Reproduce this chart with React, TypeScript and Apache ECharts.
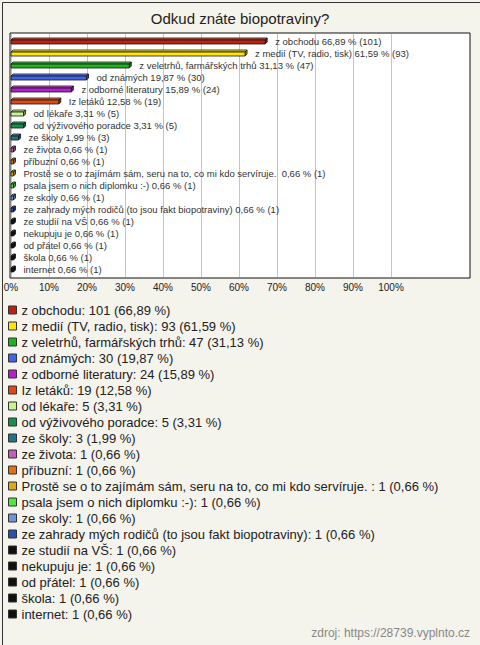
import React, { useEffect, useRef } from "react";
import * as echarts from "echarts";

const categories = [
  "z obchodu",
  "z medií (TV, radio, tisk)",
  "z veletrhů, farmářských trhů",
  "od známých",
  "z odborné literatury",
  "Iz letáků",
  "od lékaře",
  "od výživového poradce",
  "ze školy",
  "ze života",
  "příbuzní",
  "Prostě se o to zajímám sám, seru na to, co mi kdo servíruje. ",
  "psala jsem o nich diplomku :-)",
  "ze skoly",
  "ze zahrady mých rodičů (to jsou fakt biopotraviny)",
  "ze studií na VŠ",
  "nekupuju je",
  "od přátel",
  "škola",
  "internet",
];
const counts = [101, 93, 47, 30, 24, 19, 5, 5, 3, 1, 1, 1, 1, 1, 1, 1, 1, 1, 1, 1];
const percents = [66.89, 61.59, 31.13, 19.87, 15.89, 12.58, 3.31, 3.31, 1.99, 0.66, 0.66, 0.66, 0.66, 0.66, 0.66, 0.66, 0.66, 0.66, 0.66, 0.66];
const colors = [
  "#C0200F", "#FFE500", "#1DB51D", "#3F64E8", "#B51FCF", "#E04A12", "#C8F58A",
  "#129150", "#21728A", "#C45CBA", "#E07012", "#E0A812", "#4DE83A", "#6B95DD",
  "#2D4FB0", "#111111", "#111111", "#111111", "#111111", "#111111",
];
const xTicks = [0, 10, 20, 30, 40, 50, 60, 70, 80, 90, 100];

const FONT = "Arial, 'Liberation Sans', sans-serif";
const fmt = (v: number) => v.toFixed(2).replace(".", ",");

function mix(hex: string, target: number, t: number) {
  const n = parseInt(hex.slice(1), 16);
  const r = (n >> 16) & 255, g = (n >> 8) & 255, b = n & 255;
  const f = (c: number) => Math.round(c + (target - c) * t);
  return `rgb(${f(r)},${f(g)},${f(b)})`;
}

export default function App() {
  const ref = useRef<HTMLDivElement>(null);
  useEffect(() => {
    if (!ref.current) return;
    const chart = echarts.init(ref.current, null, { renderer: "svg" });
    const series = categories.map((name, i) => ({
      type: "custom",
      name,
      xAxisIndex: 1,
      yAxisIndex: 1,
      itemStyle: { color: colors[i] },
      data: [[percents[i], i, counts[i]]],
      renderItem: (params: any, api: any) => {
        const v = api.value(0);
        const idx = api.value(1);
        const p0 = api.coord([0, idx]);
        const p1 = api.coord([v, idx]);
        const cy = p0[1];
        const x0 = p0[0];
        const x1 = p1[0];
        const d = 2;
        const top = cy - 1;
        const bot = cy + 3;
        const c = colors[idx];
        const stroke = { stroke: "#111", lineWidth: 0.8 };
        return {
          type: "group",
          children: [
            {
              type: "polygon",
              shape: { points: [[x0, top], [x0 + d, top - d], [x1 + d, top - d], [x1, top]] },
              style: { fill: mix(c, 255, 0.25), ...stroke },
            },
            {
              type: "polygon",
              shape: { points: [[x1, top], [x1 + d, top - d], [x1 + d, bot - d], [x1, bot]] },
              style: { fill: mix(c, 0, 0.3), ...stroke },
            },
            {
              type: "rect",
              shape: { x: x0, y: top, width: x1 - x0, height: bot - top },
              style: { fill: c, ...stroke },
            },
            {
              type: "text",
              x: x1 + 10,
              y: cy,
              style: {
                text: `${categories[idx]} ${fmt(percents[idx])} % (${counts[idx]})`,
                fontSize: 9.5,
                fontFamily: FONT,
                fill: "#333",
                verticalAlign: "middle",
                align: "left",
              },
            },
          ],
        };
      },
    }));

    chart.setOption({
      animation: false,
      backgroundColor: "#F4F3EC",
      title: {
        text: "Odkud znáte biopotraviny?",
        left: "center",
        top: 11,
        padding: 0,
        textStyle: { fontSize: 15, fontWeight: "normal", color: "#222", fontFamily: FONT },
      },
      grid: [
        {
          left: 10, top: 33, width: 460, height: 245,
          show: true, backgroundColor: "#fff", borderColor: "#111", borderWidth: 1,
        },
        { left: 11, top: 34, width: 380, height: 243 },
      ],
      xAxis: [
        { gridIndex: 0, type: "value", show: false },
        {
          gridIndex: 1,
          type: "value",
          min: xTicks[0],
          max: xTicks[xTicks.length - 1],
          interval: 10,
          axisLine: { show: false },
          axisTick: { show: false },
          splitLine: { show: true, lineStyle: { color: "#C4C4C4", width: 1 } },
          axisLabel: {
            formatter: (v: number) => `${v}%`,
            fontSize: 10,
            fontFamily: FONT,
            color: "#222",
            margin: 5,
          },
        },
      ],
      yAxis: [
        { gridIndex: 0, type: "value", show: false },
        {
          gridIndex: 1,
          type: "value",
          inverse: true,
          min: -7 / 12,
          max: -7 / 12 + 243 / 12,
          show: false,
        },
      ],
      legend: {
        orient: "vertical",
        left: 8,
        top: 302,
        padding: 0,
        icon: "rect",
        itemWidth: 8,
        itemHeight: 8,
        itemGap: 0,
        selectedMode: false,
        itemStyle: { borderColor: "#333", borderWidth: 1 },
        data: categories,
        formatter: (name: string) => {
          const i = categories.indexOf(name);
          return `${name}: ${counts[i]} (${fmt(percents[i])} %)`;
        },
        textStyle: { fontSize: 13, lineHeight: 16, color: "#222", fontFamily: FONT },
      },
      graphic: [
        {
          type: "text",
          right: 10,
          top: 627,
          style: { text: "zdroj: https://28739.vyplnto.cz", fontSize: 12, fill: "#888", fontFamily: FONT },
        },
        {
          type: "rect",
          left: 0,
          top: 0,
          shape: { x: 0.5, y: 0.5, width: 479, height: 644 },
          style: { fill: "none", stroke: "#333", lineWidth: 1 },
        },
      ],
      series,
    });
    return () => chart.dispose();
  }, []);
  return <div ref={ref} style={{ position: "absolute", left: 0, top: 0, width: 480, height: 645 }} />;
}
